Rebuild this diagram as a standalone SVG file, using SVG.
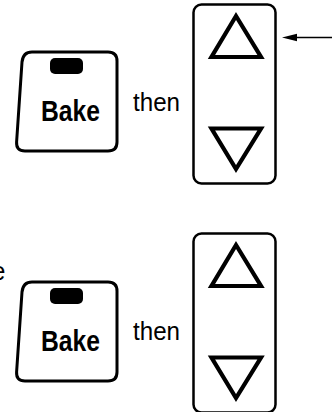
<svg xmlns="http://www.w3.org/2000/svg" width="332" height="412" viewBox="0 0 332 412">
<style>
.key{fill:#fff;stroke:#000;stroke-width:3;stroke-linejoin:round}
.ind{fill:#000}
.lbl{font-family:"Liberation Sans",Arial,sans-serif;font-weight:bold;font-size:30px;fill:#000}
.txt{font-family:"Liberation Sans",Arial,sans-serif;font-size:25px;fill:#000}
.panel{fill:#fff;stroke:#000;stroke-width:2.5}
.tri{fill:none;stroke:#000;stroke-width:4.2;stroke-linejoin:miter}
.conn{stroke:#000;stroke-width:1.5;fill:none}
</style>
<defs>
<g id="bakeKey">
<path class="key" d="M32,52 L108,52 Q117,52 117,61 L117,142 Q117,151 108,151 L25,151 Q16,151 16.6,142 L22,62 Q23,52 32,52 Z"/>
<rect class="ind" x="50" y="58" width="33" height="16" rx="5"/>
<text class="lbl" x="41" y="121" textLength="59" lengthAdjust="spacingAndGlyphs">Bake</text>
</g>
<g id="arrowPanel">
<rect class="panel" x="193.5" y="4.5" width="82" height="179" rx="8"/>
<polygon class="tri" points="236,16 211.5,57 261,57"/>
<polygon class="tri" points="211.5,128.5 261,128.5 236,169"/>
</g>
</defs>
<g id="text-e"><text class="txt" x="-8.5" y="279.5">e</text></g>
<g id="bake1"><use href="#bakeKey"/></g>
<g id="then1"><text class="txt" x="133" y="110.5" textLength="47" lengthAdjust="spacingAndGlyphs">then</text></g>
<g id="panel1"><use href="#arrowPanel"/></g>
<g id="bake2"><use href="#bakeKey" transform="translate(0,230)"/></g>
<g id="then2"><text class="txt" x="133" y="340" textLength="47" lengthAdjust="spacingAndGlyphs">then</text></g>
<g id="panel2"><use href="#arrowPanel" transform="translate(0,229)"/></g>
<g id="connectors">
<line class="conn" x1="332" y1="37.5" x2="295" y2="37.5"/>
<polygon points="282,37.5 297,33.8 297,41.2" fill="#000"/>
</g>
</svg>
